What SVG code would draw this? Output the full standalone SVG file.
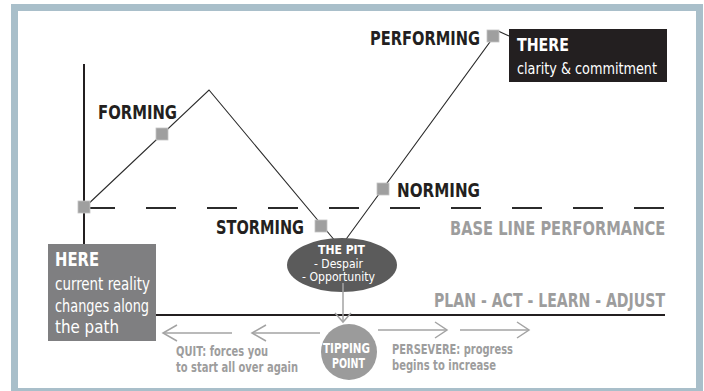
<svg xmlns="http://www.w3.org/2000/svg" width="704" height="391" viewBox="0 0 704 391">
<defs>
<style>
text{font-family:"Liberation Sans Narrow","DejaVu Sans Condensed","Liberation Sans",Arial,sans-serif;}
.stage{font-size:20px;font-weight:bold;fill:#231f20;}
.gray{font-weight:bold;fill:#9d9d9d;}
.wb{font-weight:bold;fill:#ffffff;}
.wl{font-weight:normal;fill:#ffffff;}
.sq{fill:#9f9f9f;stroke:#c4c4c4;stroke-width:0.8;}
.thin{fill:none;stroke:#2b2b2b;stroke-width:1.1;}
.thick{fill:none;stroke:#231f20;stroke-width:2;}
.arr{fill:none;stroke:#a3a3a3;stroke-width:1.5;}
</style>
</defs>
<rect x="0" y="0" width="704" height="391" fill="#ffffff"/>
<rect x="14.5" y="7.5" width="685" height="384" fill="#ffffff" stroke="#a9bfca" stroke-width="7"/>

<g id="connectors">
<line class="thick" x1="84" y1="64" x2="84" y2="244"/>
<line x1="85" y1="208" x2="665" y2="208" stroke="#2b2b2b" stroke-width="2" stroke-dasharray="30 31"/>
<line class="thick" x1="150" y1="315" x2="665" y2="315"/>
<polyline class="thin" points="84,208 209,90 336,242"/>
<polyline class="thin" points="344,242 498,31 509,36"/>
<line class="arr" x1="343" y1="282" x2="343" y2="322"/>
<polyline class="arr" points="335,313 343,322 351,313"/>
<line class="arr" x1="163" y1="333" x2="232" y2="333"/>
<polyline class="arr" points="177,325 163,333 177,341"/>
<line class="arr" x1="252" y1="333" x2="320" y2="333"/>
<polyline class="arr" points="266,325 252,333 266,341"/>
<line class="arr" x1="378" y1="330" x2="447" y2="330"/>
<polyline class="arr" points="435,322 447,330 435,338"/>
<line class="arr" x1="460" y1="330" x2="529" y2="330"/>
<polyline class="arr" points="517,322 529,330 517,338"/>
</g>

<g id="start-marker"><rect class="sq" x="78" y="201" width="12" height="12"/></g>

<g id="forming">
<rect class="sq" x="156" y="128" width="12" height="12"/>
<text class="stage" x="98" y="119" textLength="79" lengthAdjust="spacingAndGlyphs">FORMING</text>
</g>

<g id="storming">
<rect class="sq" x="315" y="220" width="12" height="12"/>
<text class="stage" x="216" y="234" textLength="88" lengthAdjust="spacingAndGlyphs">STORMING</text>
</g>

<g id="norming">
<rect class="sq" x="377" y="183" width="12" height="12"/>
<text class="stage" x="397" y="197" textLength="83" lengthAdjust="spacingAndGlyphs">NORMING</text>
</g>

<g id="performing">
<rect class="sq" x="487" y="30" width="12" height="12"/>
<text class="stage" x="370" y="45" textLength="110" lengthAdjust="spacingAndGlyphs">PERFORMING</text>
</g>

<g id="there">
<rect x="509" y="29" width="158" height="53" fill="#231f20"/>
<text class="wb" x="517" y="51" font-size="18" textLength="52" lengthAdjust="spacingAndGlyphs">THERE</text>
<text class="wl" x="517" y="74" font-size="16" textLength="140" lengthAdjust="spacingAndGlyphs">clarity &amp; commitment</text>
</g>

<g id="baseline-label">
<text class="gray" transform="translate(450,235) scale(0.8,1)" x="0" y="0" font-size="19" textLength="269" lengthAdjust="spacingAndGlyphs">BASE LINE PERFORMANCE</text>
</g>

<g id="plan-label">
<text class="gray" transform="translate(434,307) scale(0.75,1)" x="0" y="0" font-size="20" textLength="308" lengthAdjust="spacingAndGlyphs">PLAN - ACT - LEARN - ADJUST</text>
</g>

<g id="here">
<rect x="48" y="244" width="108" height="97" fill="#7f7f81"/>
<text class="wb" x="55" y="266" font-size="20" textLength="44" lengthAdjust="spacingAndGlyphs">HERE</text>
<text class="wl" x="55" y="290" font-size="17" textLength="95" lengthAdjust="spacingAndGlyphs">current reality</text>
<text class="wl" x="55" y="312" font-size="17" textLength="94" lengthAdjust="spacingAndGlyphs">changes along</text>
<text class="wl" x="55" y="333" font-size="17" textLength="64" lengthAdjust="spacingAndGlyphs">the path</text>
</g>

<g id="the-pit">
<ellipse cx="342" cy="265" rx="55" ry="27" fill="#5b5b5b"/>
<line class="arr" x1="343" y1="283" x2="343" y2="292"/>
<text class="wb" x="318" y="254" font-size="12" textLength="47" lengthAdjust="spacingAndGlyphs">THE PIT</text>
<text class="wl" x="314" y="267.5" font-size="12" textLength="49" lengthAdjust="spacingAndGlyphs">- Despair</text>
<text class="wl" x="302" y="281" font-size="12.5" textLength="73" lengthAdjust="spacingAndGlyphs">- Opportunity</text>
</g>

<g id="tipping-point">
<circle cx="349" cy="352" r="28" fill="#9b9b9b"/>
<text class="wb" x="323" y="353" font-size="14" textLength="47" lengthAdjust="spacingAndGlyphs">TIPPING</text>
<text class="wb" x="332" y="368" font-size="14" textLength="33" lengthAdjust="spacingAndGlyphs">POINT</text>
</g>

<g id="quit">
<text class="gray" x="176" y="356" font-size="14" textLength="92" lengthAdjust="spacingAndGlyphs">QUIT: forces you</text>
<text class="gray" x="176" y="372" font-size="14" textLength="122" lengthAdjust="spacingAndGlyphs">to start all over again</text>
</g>

<g id="persevere">
<text class="gray" x="392" y="354" font-size="14" textLength="121" lengthAdjust="spacingAndGlyphs">PERSEVERE: progress</text>
<text class="gray" x="392" y="370" font-size="14" textLength="104" lengthAdjust="spacingAndGlyphs">begins to increase</text>
</g>
</svg>
